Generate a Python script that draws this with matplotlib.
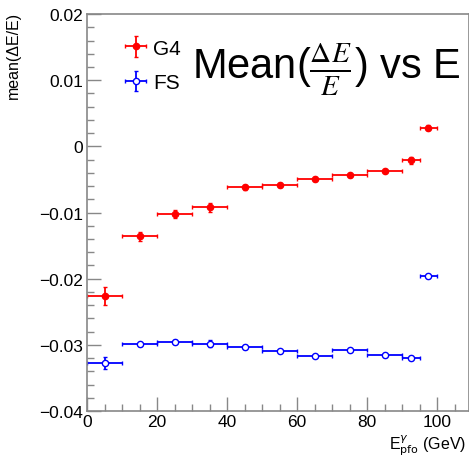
import numpy as np
import matplotlib.pyplot as plt
from matplotlib.ticker import MultipleLocator

plt.rcParams['font.family'] = ['Liberation Sans', 'DejaVu Sans']
plt.rcParams['mathtext.fontset'] = 'stix'

# bin centres / half widths (GeV)
e_centre = [5, 15, 25, 35, 45, 55, 65, 75, 85, 92.5, 97.5]
e_half = [5, 5, 5, 5, 5, 5, 5, 5, 5, 2.5, 2.5]

# G4 full simulation
g4_mean = [-0.0226, -0.0136, -0.0102, -0.0092, -0.0062, -0.0059, -0.0049, -0.0044, -0.0037, -0.0021, 0.0028]
g4_err = [0.0013, 0.0007, 0.0006, 0.0007, 0.0004, 0.0003, 0.0003, 0.0002, 0.0002, 0.0005, 0.0004]

# fast simulation
fs_mean = [-0.0327, -0.0299, -0.0295, -0.0298, -0.0303, -0.0310, -0.0317, -0.0308, -0.0316, -0.0320, -0.0196]
fs_err = [0.0009, 0.0002, 0.0003, 0.0005, 0.0003, 0.0002, 0.0002, 0.0002, 0.0002, 0.0003, 0.0003]

x_ticks = [0, 20, 40, 60, 80, 100]
y_ticks = [-0.04, -0.03, -0.02, -0.01, 0, 0.01, 0.02]
y_labels = ['\u22120.04', '\u22120.03', '\u22120.02', '\u22120.01', '0', '0.01', '0.02']

fig = plt.figure(figsize=(4.69, 4.64), dpi=100)
ax = fig.add_axes([0.1855, 0.112, 0.8145, 0.8556])

ax.errorbar(e_centre, g4_mean, xerr=e_half, yerr=g4_err, fmt='o', color='red',
            ms=4.5, lw=1.3, capsize=1.5, capthick=1.0, label='G4')
ax.errorbar(e_centre, fs_mean, xerr=e_half, yerr=fs_err, fmt='o', color='blue',
            mfc='white', ms=4.5, mew=1.0, lw=1.3, capsize=1.5, capthick=1.0, label='FS')

ax.set_xlim(0, 109.1)
ax.set_ylim(-0.04, 0.02)
ax.set_xticks(x_ticks)
ax.set_xticklabels([str(v) for v in x_ticks])
ax.set_yticks(y_ticks)
ax.set_yticklabels(y_labels)
ax.xaxis.set_minor_locator(MultipleLocator(5))
ax.yaxis.set_minor_locator(MultipleLocator(0.002))
ax.tick_params(which='both', direction='in', colors='#888888', labelcolor='black',
               labelsize=12.5, top=False, right=False)
ax.tick_params(which='major', length=10, width=1)
ax.tick_params(which='minor', length=5, width=1)
ax.tick_params(axis='x', pad=2)
ax.tick_params(axis='y', pad=3)
for sp in ax.spines.values():
    sp.set_color('#888888')
    sp.set_linewidth(1.2)

fig.text(0.995, 0.012, r'E$^{\gamma}_{\mathrm{pfo}}$ (GeV)', ha='right', va='bottom', fontsize=11.5,
         math_fontfamily='dejavusans')
fig.text(0.012, 0.975, 'mean(\u0394E/E)', rotation=90, ha='left', va='top', fontsize=11.5)

fig.text(0.409, 0.83, r'Mean($\frac{\Delta E}{E}$) vs E', fontsize=30, ha='left', va='baseline')

leg = ax.legend(loc='upper left', bbox_to_anchor=(0.04, 0.985), frameon=False, fontsize=15,
                handlelength=1.4, handletextpad=0.15, labelspacing=0.75)

fig.savefig('out.png', dpi=100)
